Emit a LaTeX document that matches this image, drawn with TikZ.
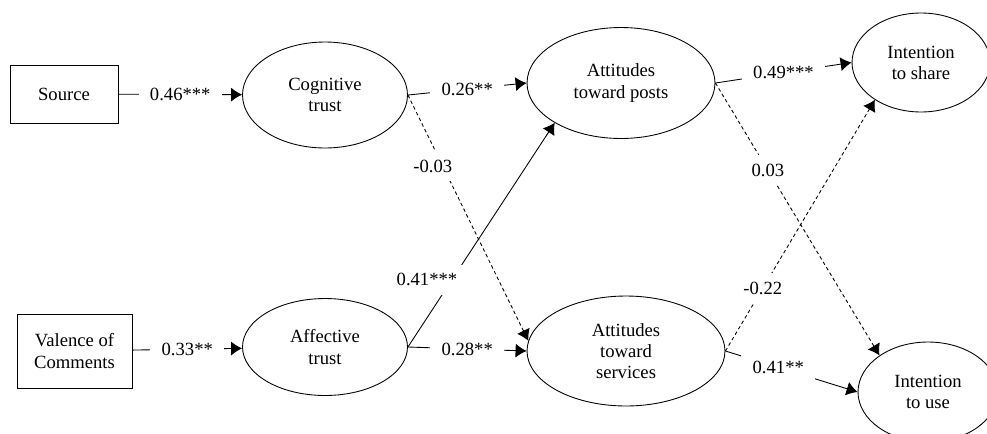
\documentclass[tikz,border=0pt]{standalone}
\usepackage{fontspec}
\setmainfont{Liberation Serif}
\usetikzlibrary{arrows.meta,shapes.geometric}

\begin{document}
\begin{tikzpicture}[x=0.02cm, y=-0.02cm, >={Latex[length=2.2mm,width=2.8mm]}, line width=0.5pt,
    every node/.style={font=\fontsize{10.6}{12}\selectfont, align=center},
    obs/.style={draw, rectangle, inner sep=0pt},
    trait/.style={draw, ellipse, inner sep=0pt},
    coef/.style={fill=white, inner xsep=6.5pt, inner ysep=5pt},
    ns/.style={dash pattern=on 2pt off 1.6pt}]
    \useasboundingbox (0,0) rectangle (987,433);

    % Nodes {src, val, cog, aff, posts, serv, share, use}
    \node [obs, minimum width=2.16cm, minimum height=1.16cm]   (src)   at (64,94)    {Source};
    \node [obs, minimum width=2.3cm, minimum height=1.48cm]    (val)   at (74.5,351) {Valence of\\Comments};
    \node [trait, minimum width=3.3cm, minimum height=2.12cm]  (cog)   at (325,95)   {Cognitive\\trust};
    \node [trait, minimum width=3.3cm, minimum height=1.94cm]  (aff)   at (325,347)  {Affective\\trust};
    \node [trait, minimum width=3.76cm, minimum height=2.22cm] (posts) at (621,83)   {Attitudes\\toward posts};
    \node [trait, minimum width=3.96cm, minimum height=2.2cm]  (serv)  at (626,351)  {Attitudes\\toward\\services};
    \node [trait, minimum width=2.76cm, minimum height=1.98cm] (share) at (921,62.5) {Intention\\to share};
    \node [trait, minimum width=2.8cm, minimum height=2cm]     (use)   at (928,392)  {Intention\\to use};

    % Paths
    \path [->] (src)        edge node [coef] {0.46***} (cog);
    \path [->] (val)        edge node [coef] {0.33**}  (aff);
    \path [->] (cog.east)   edge node [coef] {0.26**}  (posts.west);
    \path [->] (aff.east)   edge node [coef] {0.28**}  (serv.west);
    \path [->] (posts.east) edge node [coef] {0.49***} (share.west);
    \path [->] (serv.east)  edge node [coef, pos=0.4] {0.41**} (use.west);
    \path [->] (aff.east)   edge node [coef, pos=0.3, xshift=-0.5cm] {0.41***} (posts.211);

    % Paths, not significant
    \path [->, ns] (cog.east)   edge node [coef, pos=0.29, xshift=-0.2cm] {-0.03} (serv.174);
    \path [->, ns] (posts.east) edge node [coef, pos=0.32] {0.03}  (use.143);
    \path [->, ns] (serv.east)  edge node [coef, pos=0.25] {-0.22} (share.219);

\end{tikzpicture}
\end{document}
